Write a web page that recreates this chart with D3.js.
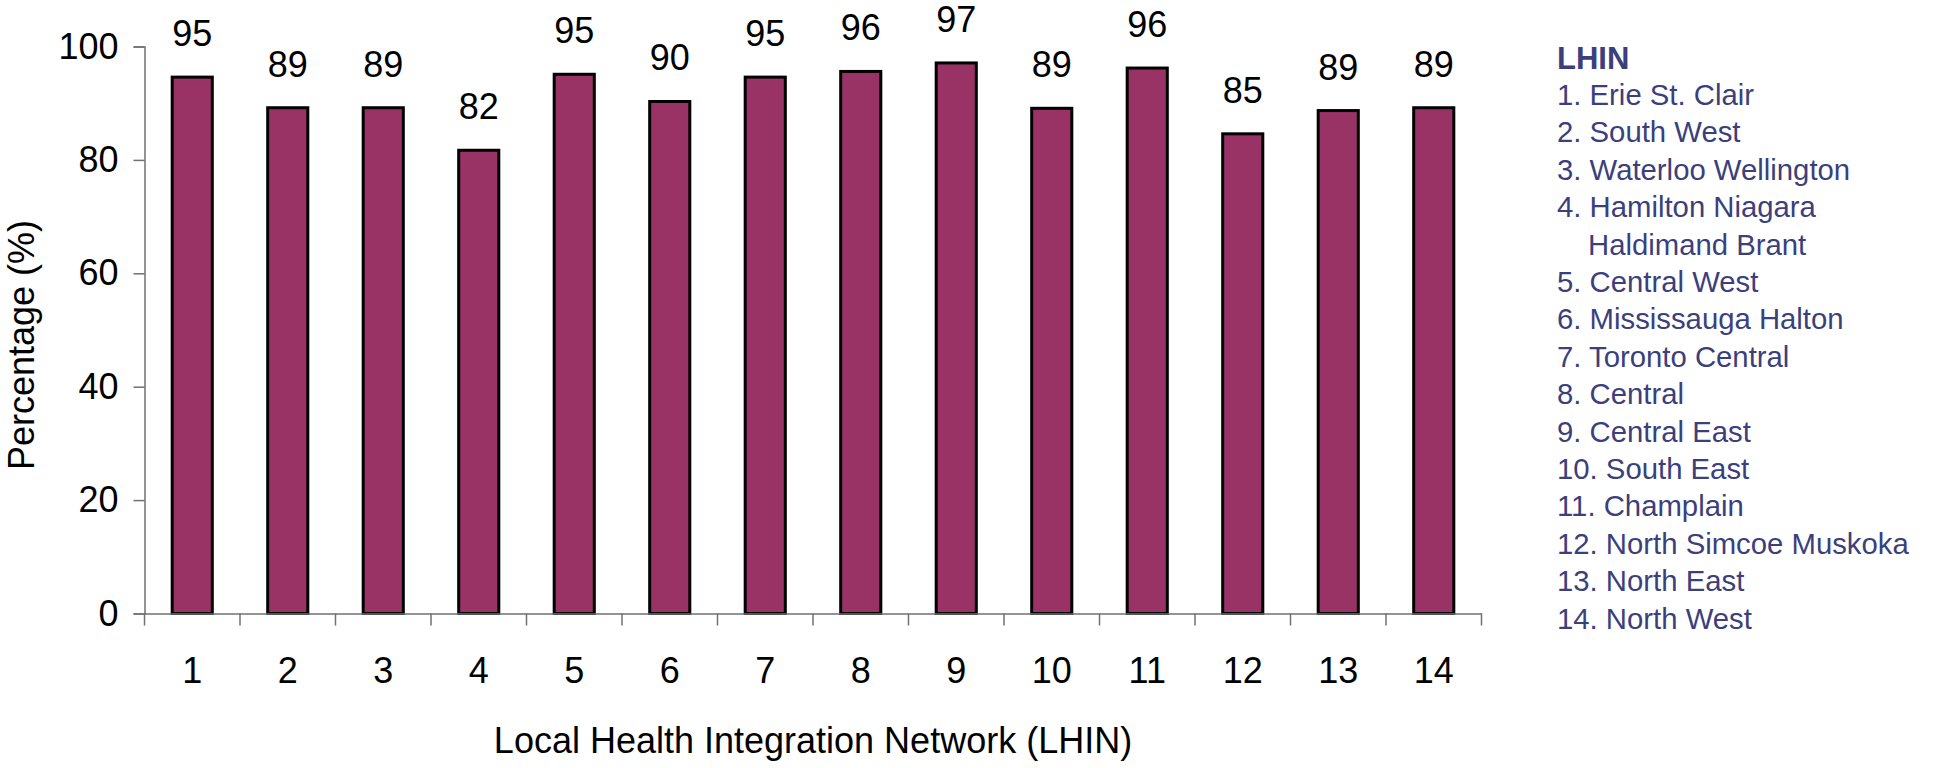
<!DOCTYPE html>
<html>
<head>
<meta charset="utf-8">
<script src="https://cdn.jsdelivr.net/npm/d3@7"></script>
<style>
  body { margin: 0; background: #fff; }
  svg { display: block; font-family: "Liberation Sans", Arial, sans-serif; }
</style>
</head>
<body>
<svg></svg>
<script>
const categories = ['1', '2', '3', '4', '5', '6', '7', '8', '9', '10', '11', '12', '13', '14'];
const values = [94.6, 89.2, 89.2, 81.7, 95.1, 90.3, 94.6, 95.6, 97.1, 89.1, 96.2, 84.6, 88.7, 89.2];
const yTicks = [0, 20, 40, 60, 80, 100];
const legendTitle = 'LHIN';
const legendLines = [
  '1. Erie St. Clair',
  '2. South West',
  '3. Waterloo Wellington',
  '4. Hamilton Niagara',
  '   Haldimand Brant',
  '5. Central West',
  '6. Mississauga Halton',
  '7. Toronto Central',
  '8. Central',
  '9. Central East',
  '10. South East',
  '11. Champlain',
  '12. North Simcoe Muskoka',
  '13. North East',
  '14. North West'
];

let width = 1938;
let height = 768;
let plotLeft = 144.5, plotRight = 1481.5, plotTop = 46.5, plotBottom = 613.5;

let svg = d3.select('svg').attr('width', width).attr('height', height);

let xScale = d3.scaleBand().domain(categories).range([plotLeft, plotRight]).padding(0);
let yScale = d3.scaleLinear().domain([0, 100]).range([plotBottom, plotTop]);
let barW = xScale.bandwidth() * 0.42;

// bars
svg.selectAll('rect.bar')
  .data(values)
  .enter()
  .append('rect')
  .attr('class', 'bar')
  .attr('x', (d, i) => xScale(categories[i]) + (xScale.bandwidth() - barW) / 2)
  .attr('y', (d) => yScale(d))
  .attr('width', barW)
  .attr('height', (d) => yScale(0) - yScale(d))
  .attr('fill', '#993366')
  .attr('stroke', '#000')
  .attr('stroke-width', 3);

// value labels
svg.selectAll('text.val')
  .data(values)
  .enter()
  .append('text')
  .attr('class', 'val')
  .attr('x', (d, i) => xScale(categories[i]) + xScale.bandwidth() / 2)
  .attr('y', (d) => yScale(d) - 31)
  .attr('text-anchor', 'middle')
  .attr('font-size', 36)
  .text((d) => d3.format('.0f')(d));

// y axis
let yAxis = d3.axisLeft(yScale).tickValues(yTicks).tickSize(11).tickPadding(15);
let gy = svg.append('g').attr('transform', `translate(${plotLeft},0)`).call(yAxis);
gy.select('.domain').attr('stroke', '#707070').attr('stroke-width', 1.5);
gy.selectAll('.tick line').attr('stroke', '#707070').attr('stroke-width', 1.5);
gy.selectAll('.tick text').attr('font-size', 36).attr('fill', '#000');
gy.attr('font-family', null);

// x axis: labels centred, ticks on band edges
let xAxis = d3.axisBottom(xScale).tickSize(0).tickPadding(44);
let gx = svg.append('g').attr('transform', `translate(0,${plotBottom})`).call(xAxis);
gx.select('.domain').attr('stroke', '#707070').attr('stroke-width', 1.5);
gx.selectAll('.tick text').attr('font-size', 36).attr('fill', '#000');
gx.attr('font-family', null);
let edges = categories.map((c) => xScale(c)).concat([plotRight]);
gx.selectAll('line.edge')
  .data(edges)
  .enter()
  .append('line')
  .attr('class', 'edge')
  .attr('x1', (d) => d).attr('x2', (d) => d)
  .attr('y1', 0).attr('y2', 12)
  .attr('stroke', '#707070')
  .attr('stroke-width', 1.5);

// axis titles
svg.append('text')
  .attr('x', (plotLeft + plotRight) / 2)
  .attr('y', 753)
  .attr('text-anchor', 'middle')
  .attr('font-size', 36)
  .text('Local Health Integration Network (LHIN)');

svg.append('text')
  .attr('transform', 'translate(34,345) rotate(-90)')
  .attr('text-anchor', 'middle')
  .attr('font-size', 36)
  .text('Percentage (%)');

// legend
let legend = svg.append('g').attr('transform', 'translate(1557,69)');
legend.append('text')
  .attr('font-size', 31)
  .attr('font-weight', 'bold')
  .attr('fill', '#3b3f7c')
  .text(legendTitle);
legend.selectAll('text.item')
  .data(legendLines)
  .enter()
  .append('text')
  .attr('class', 'item')
  .attr('y', (d, i) => 36 + i * 37.4)
  .attr('x', (d) => (d.startsWith(' ') ? 31 : 0))
  .attr('font-size', 29.3)
  .attr('fill', '#3b3f7c')
  .text((d) => d.trim());
</script>
</body>
</html>
